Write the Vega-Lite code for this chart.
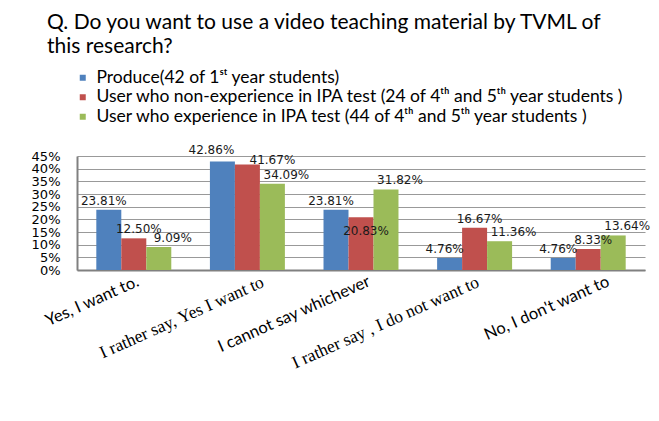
{
  "$schema": "https://vega.github.io/schema/vega-lite/v6.json",
  "width": 568,
  "height": 114,
  "autosize": {"type": "none"},
  "padding": {"left": 77, "top": 156, "right": 14, "bottom": 151},
  "background": "white",
  "title": {
    "text": ["Q. Do you want to use a video teaching material by TVML of", "this research?"],
    "anchor": "start",
    "frame": "group",
    "dx": -30,
    "offset": 12,
    "font": "Lato",
    "fontSize": 21,
    "fontWeight": "normal",
    "color": "black",
    "lineHeight": 24
  },
  "data": {
    "values": [
      {"category": "Yes, I want to.", "series": "Produce(42 of 1ˢᵗ year students)", "value": 0.2381},
      {"category": "Yes, I want to.", "series": "User who non-experience in IPA test (24 of 4ᵗʰ and 5ᵗʰ year students )", "value": 0.125},
      {"category": "Yes, I want to.", "series": "User who experience in IPA test (44 of 4ᵗʰ and 5ᵗʰ year students )", "value": 0.0909},
      {"category": "I rather say, Yes I want to", "series": "Produce(42 of 1ˢᵗ year students)", "value": 0.4286},
      {"category": "I rather say, Yes I want to", "series": "User who non-experience in IPA test (24 of 4ᵗʰ and 5ᵗʰ year students )", "value": 0.4167},
      {"category": "I rather say, Yes I want to", "series": "User who experience in IPA test (44 of 4ᵗʰ and 5ᵗʰ year students )", "value": 0.3409},
      {"category": "I cannot say whichever", "series": "Produce(42 of 1ˢᵗ year students)", "value": 0.2381},
      {"category": "I cannot say whichever", "series": "User who non-experience in IPA test (24 of 4ᵗʰ and 5ᵗʰ year students )", "value": 0.2083},
      {"category": "I cannot say whichever", "series": "User who experience in IPA test (44 of 4ᵗʰ and 5ᵗʰ year students )", "value": 0.3182},
      {"category": "I rather say , I do not want to", "series": "Produce(42 of 1ˢᵗ year students)", "value": 0.0476},
      {"category": "I rather say , I do not want to", "series": "User who non-experience in IPA test (24 of 4ᵗʰ and 5ᵗʰ year students )", "value": 0.1667},
      {"category": "I rather say , I do not want to", "series": "User who experience in IPA test (44 of 4ᵗʰ and 5ᵗʰ year students )", "value": 0.1136},
      {"category": "No, I don't want to", "series": "Produce(42 of 1ˢᵗ year students)", "value": 0.0476},
      {"category": "No, I don't want to", "series": "User who non-experience in IPA test (24 of 4ᵗʰ and 5ᵗʰ year students )", "value": 0.0833},
      {"category": "No, I don't want to", "series": "User who experience in IPA test (44 of 4ᵗʰ and 5ᵗʰ year students )", "value": 0.1364}
    ]
  },
  "encoding": {
    "x": {
      "field": "category",
      "type": "nominal",
      "sort": null,
      "scale": {"paddingInner": 0.34, "paddingOuter": 0.17},
      "axis": {
        "title": null,
        "labelAngle": -24,
        "labelAlign": "right",
        "labelBaseline": "top",
        "labelPadding": 3,
        "ticks": false,
        "domainColor": "#808080",
        "domainWidth": 2,
        "labelColor": "black",
        "labelLimit": 0,
        "labelFontSize": {
          "condition": {"test": "datum.value == 'I rather say, Yes I want to' || datum.value == 'I rather say , I do not want to'", "value": 17.5},
          "value": 16.5
        },
        "labelFont": {
          "condition": {"test": "datum.value == 'I rather say, Yes I want to' || datum.value == 'I rather say , I do not want to'", "value": "Liberation Serif"},
          "value": "Lato"
        },
        "labelOffset": {
          "condition": [
            {"test": "datum.value == 'I rather say, Yes I want to'", "value": 12},
            {"test": "datum.value == 'I cannot say whichever'", "value": 5},
            {"test": "datum.value == 'I rather say , I do not want to'", "value": 0},
            {"test": "datum.value == \"No, I don't want to\"", "value": 17}
          ],
          "value": 1
        }
      }
    },
    "xOffset": {"field": "series", "type": "nominal", "sort": null, "scale": {"paddingInner": 0, "paddingOuter": 0}},
    "y": {
      "field": "value",
      "type": "quantitative",
      "scale": {"domain": [0, 0.45], "nice": false},
      "axis": {
        "title": null,
        "format": ".0%",
        "values": [0, 0.05, 0.1, 0.15, 0.2, 0.25, 0.3, 0.35, 0.4, 0.45],
        "ticks": false,
        "domainColor": "#808080",
        "domainWidth": 2,
        "gridColor": "#999999",
        "gridWidth": 1.2,
        "labelFont": "DejaVu Sans",
        "labelFontSize": 13,
        "labelColor": "black",
        "labelPadding": 17,
        "labelOverlap": false,
        "labelFlush": false
      }
    }
  },
  "layer": [
    {
      "mark": {"type": "bar"},
      "encoding": {
        "color": {
          "field": "series",
          "type": "nominal",
          "sort": null,
          "scale": {
            "domain": ["Produce(42 of 1ˢᵗ year students)", "User who non-experience in IPA test (24 of 4ᵗʰ and 5ᵗʰ year students )", "User who experience in IPA test (44 of 4ᵗʰ and 5ᵗʰ year students )"],
            "range": ["#4F81BD", "#C0504D", "#9BBB59"]
          },
          "legend": {
            "orient": "none",
            "legendX": -3,
            "legendY": -87,
            "title": null,
            "symbolType": "square",
            "symbolSize": 36,
            "symbolStrokeWidth": 0,
            "labelFont": "Lato",
            "labelFontSize": 17.5,
            "labelColor": "black",
            "labelOffset": 5,
            "labelLimit": 0,
            "rowPadding": 0.5,
            "padding": 0
          }
        }
      }
    },
    {
      "mark": {
        "type": "text",
        "font": "DejaVu Sans",
        "fontSize": 12,
        "color": "#1a1a1a",
        "baseline": "middle",
        "dy": {"expr": "datum.value == 0.2083 ? 14 : (datum.value == 0.4167 ? -4 : (datum.value == 0.4286 ? -11 : -9))"},
        "dx": {"expr": "test(/^Produce/, datum.series) ? (datum.value == 0.4286 ? -11 : -5) : (test(/non-/, datum.series) ? (datum.value == 0.4167 ? 25 : 5) : 14)"}
      },
      "encoding": {
        "text": {"field": "value", "type": "quantitative", "format": ".2%"}
      }
    }
  ],
  "config": {"view": {"stroke": null}}
}
